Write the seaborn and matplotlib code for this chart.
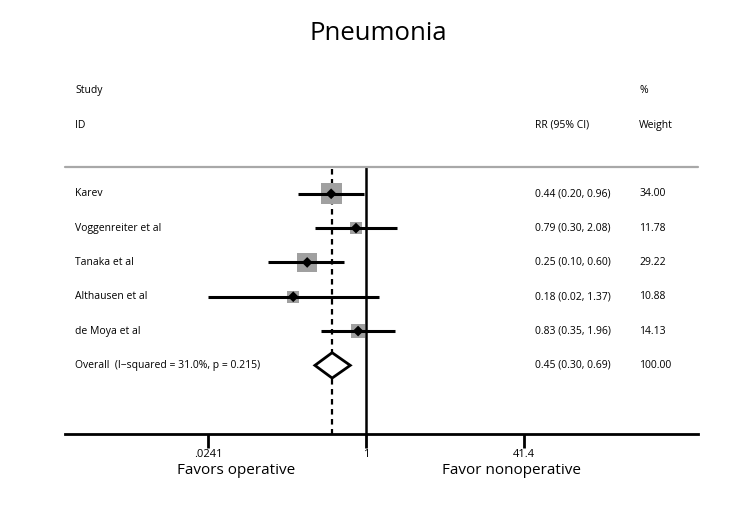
import numpy as np
import pandas as pd
import seaborn as sns
import matplotlib.pyplot as plt

# data
studies = ["Karev", "Voggenreiter et al", "Tanaka et al", "Althausen et al", "de Moya et al"]
rr = [0.44, 0.79, 0.25, 0.18, 0.83]
ci_low = [0.20, 0.30, 0.10, 0.024, 0.35]
ci_high = [0.96, 2.08, 0.60, 1.37, 1.96]
weights = [34.00, 11.78, 29.22, 10.88, 14.13]

overall_label = "Overall  (I\u2212squared = 31.0%, p = 0.215)"
overall_rr = 0.45
overall_low = 0.30
overall_high = 0.69
overall_weight = 100.00

tick_values = [0.0241, 1, 41.4]
tick_labels = [".0241", "1", "41.4"]

sns.set_theme(style="white")
plt.rcParams['font.family'] = ['Open Sans', 'DejaVu Sans']
plt.rcParams['text.color'] = 'black'
plt.rcParams['xtick.color'] = 'black'

df = pd.DataFrame({
    'study': studies,
    'rr': rr,
    'lo': ci_low,
    'hi': ci_high,
    'weight': weights,
    'row': np.arange(len(studies)),
})

fig = plt.figure(figsize=(7.5, 5.05), dpi=100)
ax = fig.add_axes([65 / 750, 71 / 505, 633 / 750, 362 / 505])

# confidence intervals
ax.hlines(df['row'], df['lo'], df['hi'], color='black', lw=2.2, zorder=3)

# weight boxes (area ~ weight)
sns.scatterplot(data=df, x='rr', y='row', size='weight', sizes=(70, 230),
                size_norm=(10, 34), marker='s', color='#a0a0a0', edgecolor='none',
                legend=False, ax=ax, zorder=2)
sns.scatterplot(data=df, x='rr', y='row', marker='D', s=30, color='black',
                edgecolor='none', legend=False, ax=ax, zorder=4)

# overall diamond
orow = len(studies)
ax.fill([overall_low, overall_rr, overall_high, overall_rr, overall_low],
        [orow, orow - 0.37, orow, orow + 0.37, orow],
        facecolor='white', edgecolor='black', lw=2, zorder=4)

# reference lines
ax.plot([1, 1], [-0.78, 7.0], color='black', lw=1.8, zorder=1)
ax.plot([overall_rr, overall_rr], [-0.72, 7.0], color='black', lw=1.6,
        ls=(0, (2.5, 2)), zorder=1)

ax.set_xscale('log')
ax.set_xlim(10 ** (-301 / 97.7), 10 ** (332 / 97.7))
ax.set_ylim(7.0, -3.55)

for s in ['top', 'right', 'left']:
    ax.spines[s].set_visible(False)
ax.spines['bottom'].set_linewidth(2)
ax.spines['bottom'].set_color('black')
ax.set_yticks([])
ax.set_xticks(tick_values)
ax.set_xticklabels(tick_labels, fontsize=8)
ax.xaxis.set_minor_locator(plt.NullLocator())
ax.tick_params(axis='x', direction='out', length=10, width=2, color='black', pad=1,
               bottom=True)
ax.set_xlabel('')
ax.set_ylabel('')

# header separator
trans = ax.get_yaxis_transform()
ax.plot([0, 1], [-0.78, -0.78], transform=trans, color='#a8a8a8', lw=1.6, clip_on=False)

fs = 7.5
col_rr = (535 - 65) / 633
col_w = (639 - 65) / 633
col_s = (75 - 65) / 633
ax.text(col_s, -3, "Study", transform=trans, fontsize=fs, va='center')
ax.text(col_s, -2, "ID", transform=trans, fontsize=fs, va='center')
ax.text(col_w, -3, "%", transform=trans, fontsize=fs, va='center')
ax.text(col_w, -2, "Weight", transform=trans, fontsize=fs, va='center')
ax.text(col_rr, -2, "RR (95% CI)", transform=trans, fontsize=fs, va='center')

for i, row in df.iterrows():
    ax.text(col_s, row['row'], row['study'], transform=trans, fontsize=fs, va='center')
    ax.text(col_rr, row['row'], f"{row['rr']:.2f} ({row['lo']:.2f}, {row['hi']:.2f})",
            transform=trans, fontsize=fs, va='center')
    ax.text(col_w, row['row'], f"{row['weight']:.2f}", transform=trans, fontsize=fs, va='center')

ax.text(col_s, orow, overall_label, transform=trans, fontsize=fs, va='center')
ax.text(col_rr, orow, f"{overall_rr:.2f} ({overall_low:.2f}, {overall_high:.2f})",
        transform=trans, fontsize=fs, va='center')
ax.text(col_w, orow, f"{overall_weight:.2f}", transform=trans, fontsize=fs, va='center')

fig.text(236 / 750, 1 - 471 / 505, "Favors operative", fontsize=11, ha='center', va='center')
fig.text(512 / 750, 1 - 471 / 505, "Favor nonoperative", fontsize=11, ha='center', va='center')
fig.text(378 / 750, 1 - 33 / 505, "Pneumonia", fontsize=18.5, ha='center', va='center')

fig.savefig('out.png', dpi=100)
